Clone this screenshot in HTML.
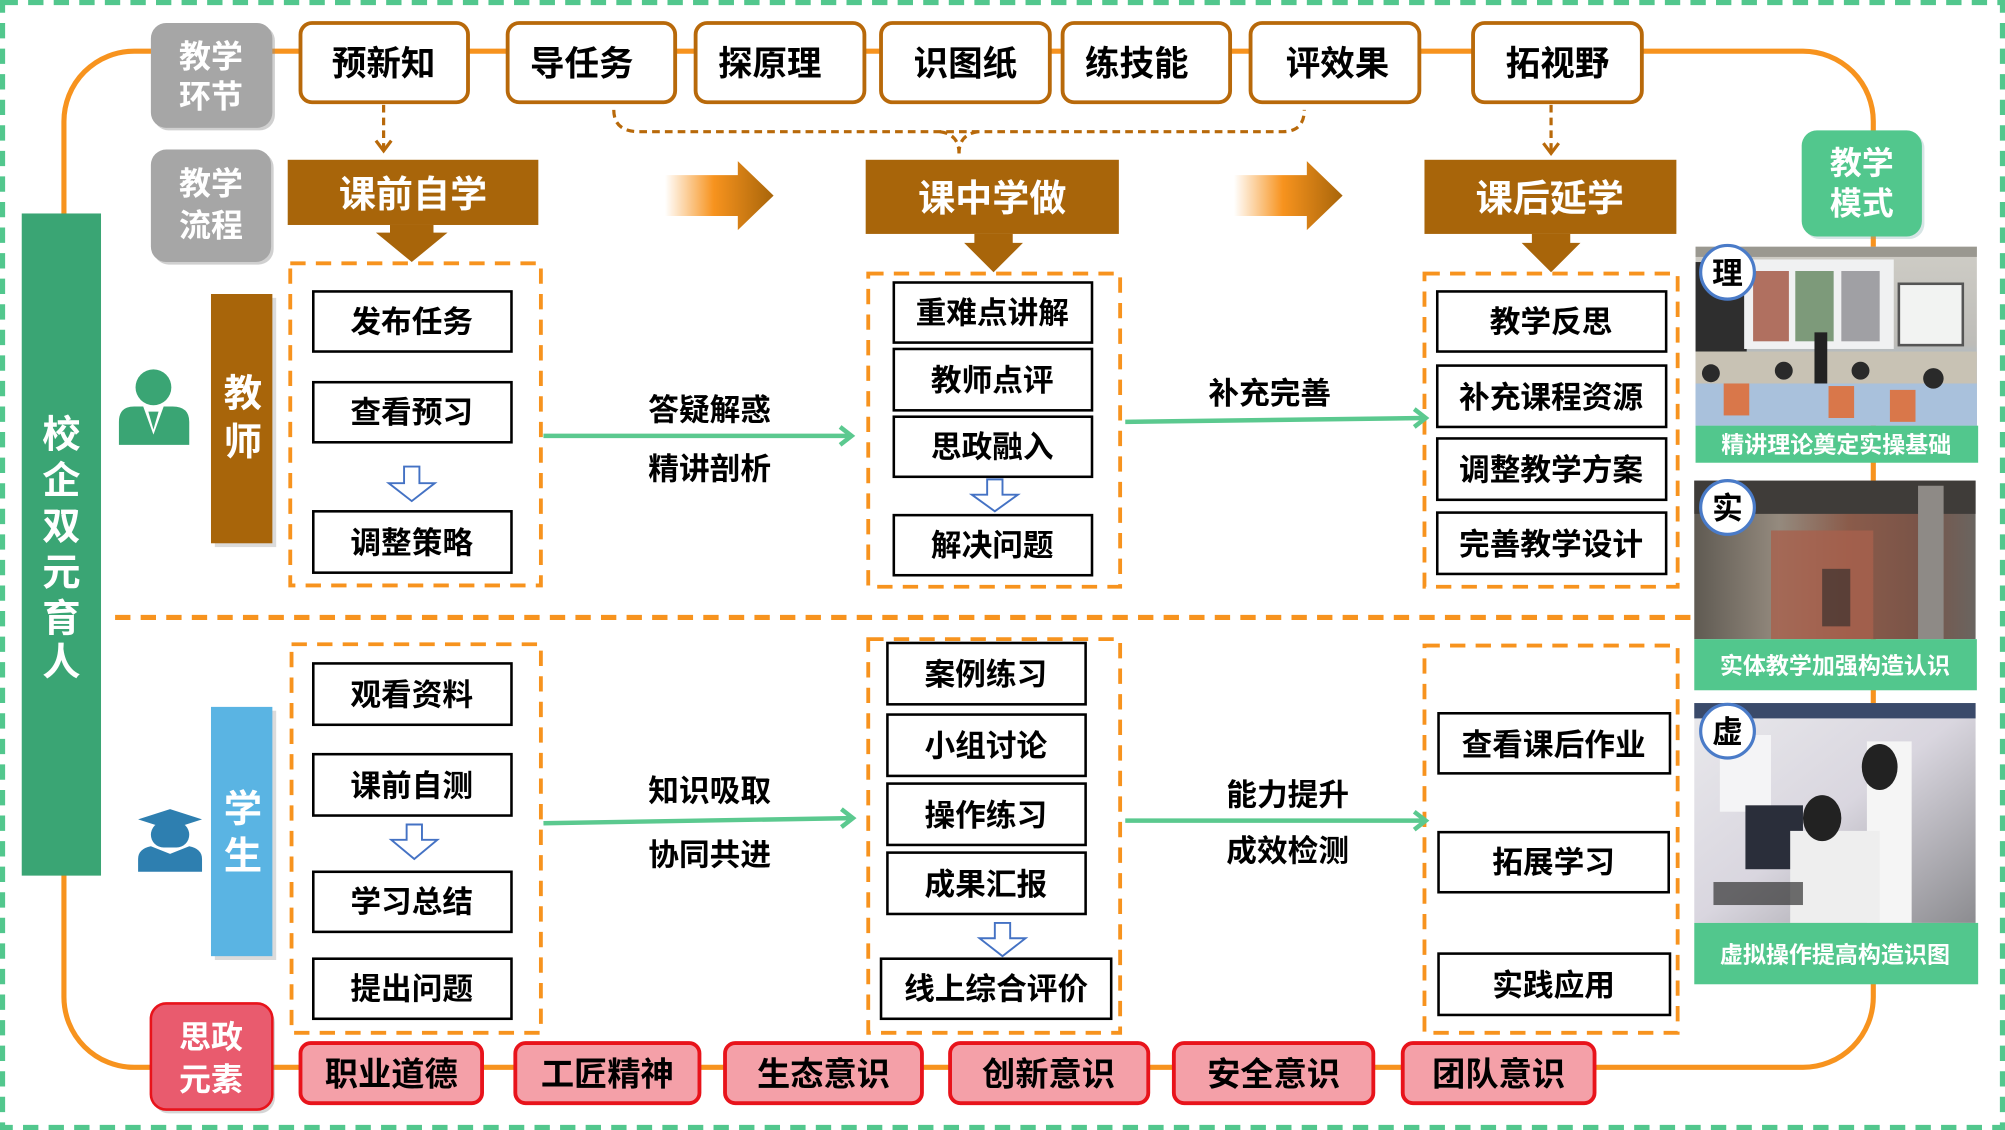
<!DOCTYPE html>
<html><head><meta charset="utf-8"><style>
html,body{margin:0;padding:0;background:#fff;}
svg{display:block;}
text{font-family:"Liberation Sans","Noto Sans CJK SC",sans-serif;font-weight:700;}
</style></head><body>
<svg width="2005" height="1130" viewBox="0 0 1568 884" preserveAspectRatio="none" xmlns="http://www.w3.org/2000/svg">
<defs>
<linearGradient id="ga" x1="0" x2="1" y1="0" y2="0">
<stop offset="0" stop-color="#f7931e" stop-opacity="0"/>
<stop offset="0.45" stop-color="#f7931e"/>
<stop offset="1" stop-color="#a8650a"/>
</linearGradient>
<linearGradient id="p1" x1="0" x2="0" y1="0" y2="1">
<stop offset="0" stop-color="#cfcdc6"/><stop offset="0.55" stop-color="#bdbcb8"/><stop offset="0.7" stop-color="#9fb9d6"/><stop offset="1" stop-color="#8aa5c0"/>
</linearGradient>
<linearGradient id="p2" x1="0" x2="1" y1="0" y2="0">
<stop offset="0" stop-color="#5f5a52"/><stop offset="0.3" stop-color="#948a7e"/><stop offset="0.55" stop-color="#8a5b4a"/><stop offset="0.8" stop-color="#7a5448"/><stop offset="1" stop-color="#6a6560"/>
</linearGradient>
<linearGradient id="p3" x1="0" x2="1" y1="0" y2="1">
<stop offset="0" stop-color="#e9e9ec"/><stop offset="0.5" stop-color="#d9d6df"/><stop offset="1" stop-color="#8c8c90"/>
</linearGradient>
</defs>
<rect x="2" y="2" width="1564" height="880" fill="none" stroke="#52c78d" stroke-width="4" stroke-dasharray="12 8"/>
<rect x="50" y="40" width="1415" height="795" rx="55" fill="none" stroke="#f7931e" stroke-width="4"/>
<rect x="17" y="167" width="62" height="518" fill="#3aa574"/>
<g fill="#fff" font-size="30" text-anchor="middle">
<text x="48" y="350">校</text><text x="48" y="386">企</text><text x="48" y="422">双</text><text x="48" y="458">元</text><text x="48" y="494">育</text><text x="48" y="528">人</text>
</g>
<rect x="120" y="20" width="95" height="82" rx="12" fill="#8a8a8a" opacity="0.4"/>
<rect x="118" y="18" width="95" height="82" rx="12" fill="#a6a6a6"/>
<text x="165" y="53" font-size="25" fill="#fff" text-anchor="middle">教学</text>
<text x="165" y="84" font-size="25" fill="#fff" text-anchor="middle">环节</text>
<rect x="120" y="119" width="94" height="88" rx="12" fill="#8a8a8a" opacity="0.4"/>
<rect x="118" y="117" width="94" height="88" rx="12" fill="#a6a6a6"/>
<text x="165" y="152" font-size="25" fill="#fff" text-anchor="middle">教学</text>
<text x="165" y="185" font-size="25" fill="#fff" text-anchor="middle">流程</text>
<g fill="#fff" stroke="#b8690a" stroke-width="3">
<rect x="235" y="18" width="131" height="62" rx="9"/>
<rect x="397" y="18" width="131" height="62" rx="9"/>
<rect x="544" y="18" width="132" height="62" rx="9"/>
<rect x="689" y="18" width="132" height="62" rx="9"/>
<rect x="831" y="18" width="131" height="62" rx="9"/>
<rect x="978" y="18" width="132" height="62" rx="9"/>
<rect x="1152" y="18" width="132" height="62" rx="9"/>
</g>
<g font-size="27" fill="#000" text-anchor="middle">
<text x="300" y="59">预新知</text><text x="455" y="59">导任务</text><text x="602" y="59">探原理</text><text x="755" y="59">识图纸</text><text x="889" y="59">练技能</text><text x="1046" y="59">评效果</text><text x="1218" y="59">拓视野</text>
</g>
<g fill="none" stroke="#b8690a" stroke-width="2.5" stroke-dasharray="6 4">
<path d="M300 82 V116"/>
<path d="M1213 82 V118"/>
<path d="M480 86 Q480 103 500 103 H1003 Q1020 103 1020 86"/>
<path d="M735 103 Q750 105 750 120"/>
<path d="M765 103 Q750 105 750 120"/>
</g>
<g fill="none" stroke="#b8690a" stroke-width="2.5">
<path d="M294 110 L300 118 L306 110"/>
<path d="M1207 112 L1213 120 L1219 112"/>
</g>
<g fill="#a8650a">
<rect x="225" y="125" width="196" height="51"/><polygon points="305,176 339,176 339,182 350,182 322,205 294,182 305,182"/>
<rect x="677" y="125" width="198" height="58"/><polygon points="762,183 792,183 792,190 800,190 777,213 754,190 762,190"/>
<rect x="1114" y="125" width="197" height="58"/><polygon points="1198,183 1228,183 1228,190 1236,190 1213,213 1190,190 1198,190"/>
</g>
<g font-size="29" fill="#fff" text-anchor="middle">
<text x="323" y="162">课前自学</text><text x="776" y="165">课中学做</text><text x="1212" y="165">课后延学</text>
</g>
<polygon points="520,137 577,137 577,126 605,153 577,180 577,169 520,169" fill="url(#ga)"/>
<polygon points="965,137 1022,137 1022,126 1050,153 1022,180 1022,169 965,169" fill="url(#ga)"/>
<rect x="1411" y="104" width="94" height="83" rx="12" fill="#7aa" opacity="0.3"/>
<rect x="1409" y="102" width="94" height="83" rx="12" fill="#52c78d"/>
<text x="1456" y="136" font-size="25" fill="#fff" text-anchor="middle">教学</text>
<text x="1456" y="168" font-size="25" fill="#fff" text-anchor="middle">模式</text>
<!-- photo 1 -->
<rect x="1326" y="193" width="220" height="140" fill="url(#p1)"/>
<rect x="1326" y="193" width="220" height="8" fill="#9a9890"/>
<rect x="1326" y="205" width="40" height="70" fill="#2e2e2e"/>
<rect x="1364" y="203" width="117" height="70" fill="#f0f1f2"/>
<rect x="1371" y="212" width="28" height="55" fill="#b07060"/><rect x="1404" y="212" width="30" height="55" fill="#7d9a7a"/><rect x="1440" y="212" width="30" height="55" fill="#a0a0a4"/>
<rect x="1485" y="222" width="50" height="48" fill="#f2f3f2" stroke="#555" stroke-width="2"/>
<rect x="1326" y="275" width="220" height="30" fill="#c8c2b4"/>
<rect x="1326" y="300" width="220" height="33" fill="#a9c1dc"/>
<rect x="1348" y="300" width="20" height="25" fill="#d9774a"/><rect x="1430" y="302" width="20" height="25" fill="#d9774a"/><rect x="1478" y="305" width="20" height="25" fill="#d9774a"/>
<circle cx="1338" cy="292" r="7" fill="#2a2a2a"/><circle cx="1395" cy="290" r="7" fill="#2a2a2a"/><circle cx="1455" cy="290" r="7" fill="#2a2a2a"/><circle cx="1512" cy="296" r="8" fill="#2a2a2a"/>
<rect x="1419" y="260" width="10" height="40" fill="#222"/>
<rect x="1326" y="333" width="221" height="29" fill="#52c78d"/>
<text x="1436" y="354" font-size="18" fill="#fff" text-anchor="middle">精讲理论奠定实操基础</text>
<!-- photo 2 -->
<rect x="1325" y="376" width="220" height="124" fill="url(#p2)"/>
<rect x="1325" y="376" width="220" height="26" fill="#3f3c39"/>
<rect x="1385" y="415" width="80" height="85" fill="#a8604c" opacity="0.8"/>
<rect x="1425" y="445" width="22" height="45" fill="#2a2a2a" opacity="0.6"/>
<rect x="1500" y="380" width="20" height="120" fill="#8e8a86"/>
<rect x="1325" y="500" width="221" height="40" fill="#52c78d"/>
<text x="1435" y="527" font-size="18" fill="#fff" text-anchor="middle">实体教学加强构造认识</text>
<!-- photo 3 -->
<rect x="1325" y="550" width="220" height="172" fill="url(#p3)"/>
<rect x="1325" y="550" width="220" height="12" fill="#3a4a6a"/>
<rect x="1345" y="575" width="40" height="60" fill="#f4f4f6"/>
<rect x="1365" y="630" width="45" height="50" fill="#2a2e3a"/>
<rect x="1460" y="580" width="35" height="142" fill="#f5f5f5"/>
<ellipse cx="1470" cy="600" rx="14" ry="18" fill="#222"/>
<rect x="1400" y="650" width="70" height="72" fill="#eeeeee"/>
<ellipse cx="1425" cy="640" rx="15" ry="18" fill="#222"/>
<rect x="1340" y="690" width="70" height="18" fill="#333" opacity="0.7"/>
<rect x="1325" y="722" width="222" height="48" fill="#52c78d"/>
<text x="1435" y="753" font-size="18" fill="#fff" text-anchor="middle">虚拟操作提高构造识图</text>
<g fill="#fff" stroke="#4a7bc8" stroke-width="2.5">
<circle cx="1351" cy="213" r="21"/><circle cx="1351" cy="397" r="21"/><circle cx="1351" cy="572" r="21"/>
</g>
<g font-size="24" fill="#000" text-anchor="middle">
<text x="1351" y="222">理</text><text x="1351" y="406">实</text><text x="1351" y="581">虚</text>
</g>
<circle cx="120" cy="303" r="14" fill="#3aa574"/>
<path d="M93 348 V330 Q93 318 105 318 L112 318 L120 340 L128 318 L135 318 Q148 318 148 330 V348 Z" fill="#3aa574"/>
<polygon points="116,322 124,322 120,336" fill="#3aa574"/>
<polygon points="133,633 108,641 133,649 158,641" fill="#2e7fb0"/>
<rect x="118" y="643" width="30" height="20" rx="10" fill="#2e7fb0"/>
<path d="M108 682 V672 Q108 664 118 662 L133 668 L148 662 Q158 664 158 672 V682 Z" fill="#2e7fb0"/>
<rect x="168" y="233" width="48" height="195" fill="#999" opacity="0.35"/>
<rect x="165" y="230" width="48" height="195" fill="#a8650a"/>
<text x="190" y="318" font-size="30" fill="#fff" text-anchor="middle">教</text>
<text x="190" y="356" font-size="30" fill="#fff" text-anchor="middle">师</text>
<rect x="168" y="556" width="48" height="195" fill="#999" opacity="0.35"/>
<rect x="165" y="553" width="48" height="195" fill="#5ab4e3"/>
<text x="190" y="643" font-size="30" fill="#fff" text-anchor="middle">学</text>
<text x="190" y="680" font-size="30" fill="#fff" text-anchor="middle">生</text>
<path d="M90 483 H1325" stroke="#f7931e" stroke-width="4" stroke-dasharray="12 8"/>
<g fill="none" stroke="#f7931e" stroke-width="3" stroke-dasharray="12 8">
<rect x="227" y="206" width="196" height="252"/>
<rect x="679" y="214" width="197" height="245"/>
<rect x="1114" y="214" width="198" height="245"/>
<rect x="228" y="504" width="195" height="304"/>
<rect x="679" y="500" width="197" height="308"/>
<rect x="1114" y="505" width="198" height="303"/>
</g>
<g fill="#fff" stroke="#000" stroke-width="2">
<rect x="245" y="228" width="155" height="47"/><rect x="245" y="299" width="155" height="47"/><rect x="245" y="400" width="155" height="48"/>
<rect x="699" y="221" width="155" height="47"/><rect x="699" y="273" width="155" height="48"/><rect x="699" y="326" width="155" height="47"/><rect x="699" y="403" width="155" height="47"/>
<rect x="1124" y="228" width="179" height="47"/><rect x="1124" y="286" width="179" height="48"/><rect x="1124" y="343" width="179" height="48"/><rect x="1124" y="401" width="179" height="48"/>
<rect x="245" y="519" width="155" height="48"/><rect x="245" y="590" width="155" height="48"/><rect x="245" y="682" width="155" height="47"/><rect x="245" y="750" width="155" height="47"/>
<rect x="694" y="503" width="155" height="48"/><rect x="694" y="559" width="155" height="48"/><rect x="694" y="613" width="155" height="48"/><rect x="694" y="667" width="155" height="48"/><rect x="689" y="750" width="180" height="47"/>
<rect x="1125" y="558" width="181" height="47"/><rect x="1125" y="651" width="180" height="47"/><rect x="1125" y="746" width="181" height="48"/>
</g>
<g font-size="24" fill="#000" text-anchor="middle">
<text x="322" y="260">发布任务</text><text x="322" y="331">查看预习</text><text x="322" y="433">调整策略</text>
<text x="776" y="253">重难点讲解</text><text x="776" y="306">教师点评</text><text x="776" y="358">思政融入</text><text x="776" y="435">解决问题</text>
<text x="1213" y="260">教学反思</text><text x="1213" y="319">补充课程资源</text><text x="1213" y="376">调整教学方案</text><text x="1213" y="434">完善教学设计</text>
<text x="322" y="552">观看资料</text><text x="322" y="623">课前自测</text><text x="322" y="714">学习总结</text><text x="322" y="782">提出问题</text>
<text x="771" y="536">案例练习</text><text x="771" y="592">小组讨论</text><text x="771" y="646">操作练习</text><text x="771" y="700">成果汇报</text><text x="779" y="782">线上综合评价</text>
<text x="1215" y="591">查看课后作业</text><text x="1215" y="683">拓展学习</text><text x="1215" y="779">实践应用</text>
</g>
<g fill="#fff" stroke="#4472c4" stroke-width="1.5">
<polygon points="316,365 328,365 328,378 340,378 322,392 304,378 316,378"/>
<polygon points="772,375 784,375 784,387 796,387 778,400 760,387 772,387"/>
<polygon points="318,645 330,645 330,657 342,657 324,672 306,657 318,657"/>
<polygon points="778,722 790,722 790,734 802,734 784,748 766,734 778,734"/>
</g>
<g stroke="#5bc98f" stroke-width="3.5" fill="none">
<path d="M425 341 H665"/><path d="M657 334 L666 341 L657 348"/>
<path d="M880 330 L1114 327"/><path d="M1106 320 L1115 327 L1106 334"/>
<path d="M425 644 L666 640"/><path d="M658 633 L667 640 L658 647"/>
<path d="M880 642 H1114"/><path d="M1106 635 L1115 642 L1106 649"/>
</g>
<g font-size="24" fill="#000" text-anchor="middle">
<text x="555" y="329">答疑解惑</text><text x="555" y="375">精讲剖析</text>
<text x="993" y="316">补充完善</text>
<text x="555" y="627">知识吸取</text><text x="555" y="677">协同共进</text>
<text x="1007" y="630">能力提升</text><text x="1007" y="674">成效检测</text>
</g>
<rect x="120" y="788" width="95" height="83" rx="12" fill="#888" opacity="0.35"/>
<rect x="118" y="785" width="95" height="83" rx="12" fill="#e95b6e" stroke="#e8131b" stroke-width="2"/>
<text x="165" y="820" font-size="25" fill="#fff" text-anchor="middle">思政</text>
<text x="165" y="853" font-size="25" fill="#fff" text-anchor="middle">元素</text>
<g fill="#f4a0a8" stroke="#e8131b" stroke-width="3">
<rect x="235" y="816" width="142" height="47" rx="8"/>
<rect x="403" y="816" width="144" height="47" rx="8"/>
<rect x="567" y="816" width="154" height="47" rx="8"/>
<rect x="743" y="816" width="155" height="47" rx="8"/>
<rect x="918" y="816" width="156" height="47" rx="8"/>
<rect x="1097" y="816" width="150" height="47" rx="8"/>
</g>
<g font-size="26" fill="#000" text-anchor="middle">
<text x="306" y="849">职业道德</text><text x="475" y="849">工匠精神</text><text x="644" y="849">生态意识</text><text x="820" y="849">创新意识</text><text x="996" y="849">安全意识</text><text x="1172" y="849">团队意识</text>
</g>
</svg>
</body></html>
